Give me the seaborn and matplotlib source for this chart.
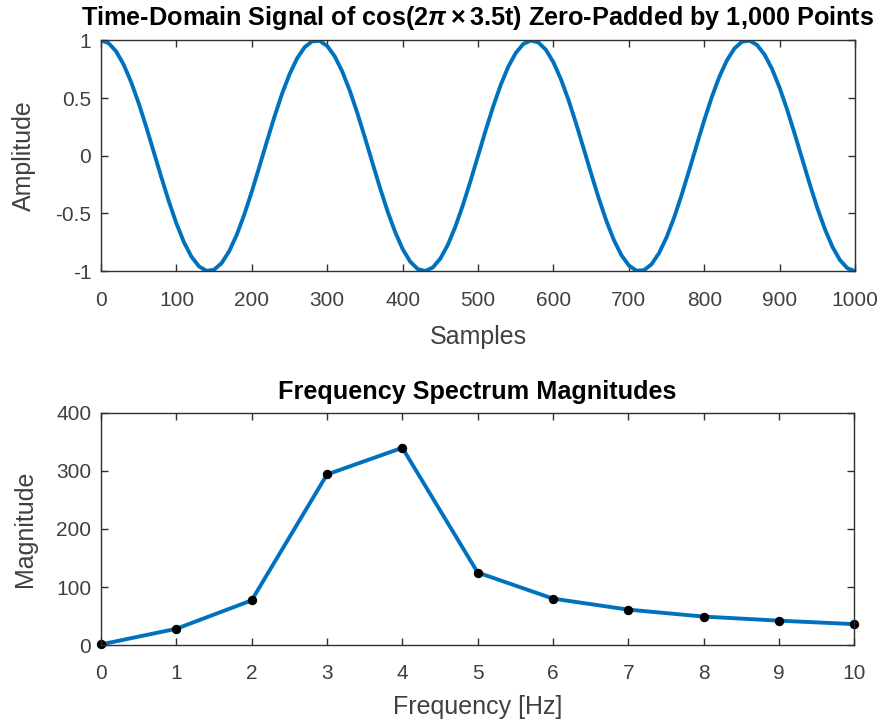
import numpy as np
import pandas as pd
import matplotlib
matplotlib.use("Agg")
import matplotlib.pyplot as plt
import seaborn as sns

# Time-domain signal, read every 10 samples (0..1000)
samples = list(range(0, 1001, 10))
amplitude = [
    1.000, 0.976, 0.905, 0.790, 0.637, 0.454, 0.249, 0.031, -0.187, -0.397,
    -0.588, -0.750, -0.876, -0.960, -0.998, -0.988, -0.930, -0.827, -0.685, -0.509,
    -0.309, -0.094, 0.125, 0.339, 0.536, 0.707, 0.844, 0.941, 0.992, 0.996,
    0.951, 0.861, 0.729, 0.562, 0.368, 0.156, -0.063, -0.279, -0.482, -0.661,
    -0.809, -0.918, -0.982, -0.999, -0.969, -0.891, -0.771, -0.613, -0.426, -0.218,
    0.000, 0.218, 0.426, 0.613, 0.771, 0.891, 0.969, 0.999, 0.982, 0.918,
    0.809, 0.661, 0.482, 0.279, 0.063, -0.156, -0.368, -0.562, -0.729, -0.861,
    -0.951, -0.996, -0.992, -0.941, -0.844, -0.707, -0.536, -0.339, -0.125, 0.094,
    0.309, 0.509, 0.685, 0.827, 0.930, 0.988, 0.998, 0.960, 0.876, 0.750,
    0.588, 0.397, 0.187, -0.031, -0.249, -0.454, -0.637, -0.790, -0.905, -0.976,
    -1.000,
]

# Frequency spectrum magnitudes
freqs = [0, 1, 2, 3, 4, 5, 6, 7, 8, 9, 10]
magnitude = [1, 28, 77, 294, 340, 125, 80, 61, 49, 42, 36]

amp_ticks = [-1, -0.5, 0, 0.5, 1]
amp_labels = ["-1", "-0.5", "0", "0.5", "1"]
sample_ticks = list(range(0, 1001, 100))
mag_ticks = [0, 100, 200, 300, 400]

BLUE = "#0072BD"
GREY = "#303030"
TEXT_GREY = "#404040"

sns.set_theme(style="ticks")
plt.rcParams["font.family"] = ["Liberation Sans", "DejaVu Sans"]
plt.rcParams["axes.unicode_minus"] = False
plt.rcParams["mathtext.fontset"] = "custom"
plt.rcParams["mathtext.rm"] = "Liberation Sans:bold"
plt.rcParams["mathtext.it"] = "Liberation Sans:bold:italic"
plt.rcParams["mathtext.bf"] = "Liberation Sans:bold"


def style_axes(ax):
    for side in ["top", "right", "left", "bottom"]:
        ax.spines[side].set_visible(True)
        ax.spines[side].set_color(GREY)
        ax.spines[side].set_linewidth(1.0)
    ax.tick_params(direction="in", length=5, width=1.0, colors=GREY,
                   labelsize=15, top=True, right=True)
    ax.tick_params(axis="x", pad=14)
    ax.tick_params(axis="y", pad=7)
    for lbl in ax.get_xticklabels() + ax.get_yticklabels():
        lbl.set_color(TEXT_GREY)


fig = plt.figure(figsize=(8.84, 7.21), dpi=100)

# Top panel
ax1 = fig.add_axes([0.1143, 0.624, 0.853, 0.320])
time_df = pd.DataFrame({"Samples": samples, "Amplitude": amplitude})
sns.lineplot(data=time_df, x="Samples", y="Amplitude", ax=ax1,
             color=BLUE, linewidth=2.8)
ax1.set_xlim(0, 1000)
ax1.set_ylim(-1, 1)
ax1.set_xticks(sample_ticks)
ax1.set_yticks(amp_ticks)
ax1.set_yticklabels(amp_labels)
ax1.set_xlabel("Samples", fontsize=18, color=TEXT_GREY, labelpad=11)
ax1.set_ylabel("Amplitude", fontsize=18, color=TEXT_GREY, labelpad=14)
ax1.set_title(r"Time-Domain Signal of cos(2$\pi\times$3.5t) Zero-Padded by 1,000 Points",
              fontsize=18.2, fontweight="bold", color="black", pad=11)
style_axes(ax1)

# Bottom panel
ax2 = fig.add_axes([0.1143, 0.1054, 0.852, 0.3218])
spec_df = pd.DataFrame({"Frequency": freqs, "Magnitude": magnitude})
sns.lineplot(data=spec_df, x="Frequency", y="Magnitude", ax=ax2,
             color=BLUE, linewidth=2.8, marker="o", markersize=6,
             markerfacecolor="black", markeredgecolor="black", clip_on=False)
ax2.set_xlim(0, 10)
ax2.set_ylim(0, 400)
ax2.set_xticks(freqs)
ax2.set_yticks(mag_ticks)
ax2.set_xlabel("Frequency [Hz]", fontsize=18, color=TEXT_GREY, labelpad=8)
ax2.set_ylabel("Magnitude", fontsize=18, color=TEXT_GREY, labelpad=14)
ax2.set_title("Frequency Spectrum Magnitudes", fontsize=18.2,
              fontweight="bold", color="black", pad=10)
style_axes(ax2)

fig.savefig("out.png", dpi=100)
